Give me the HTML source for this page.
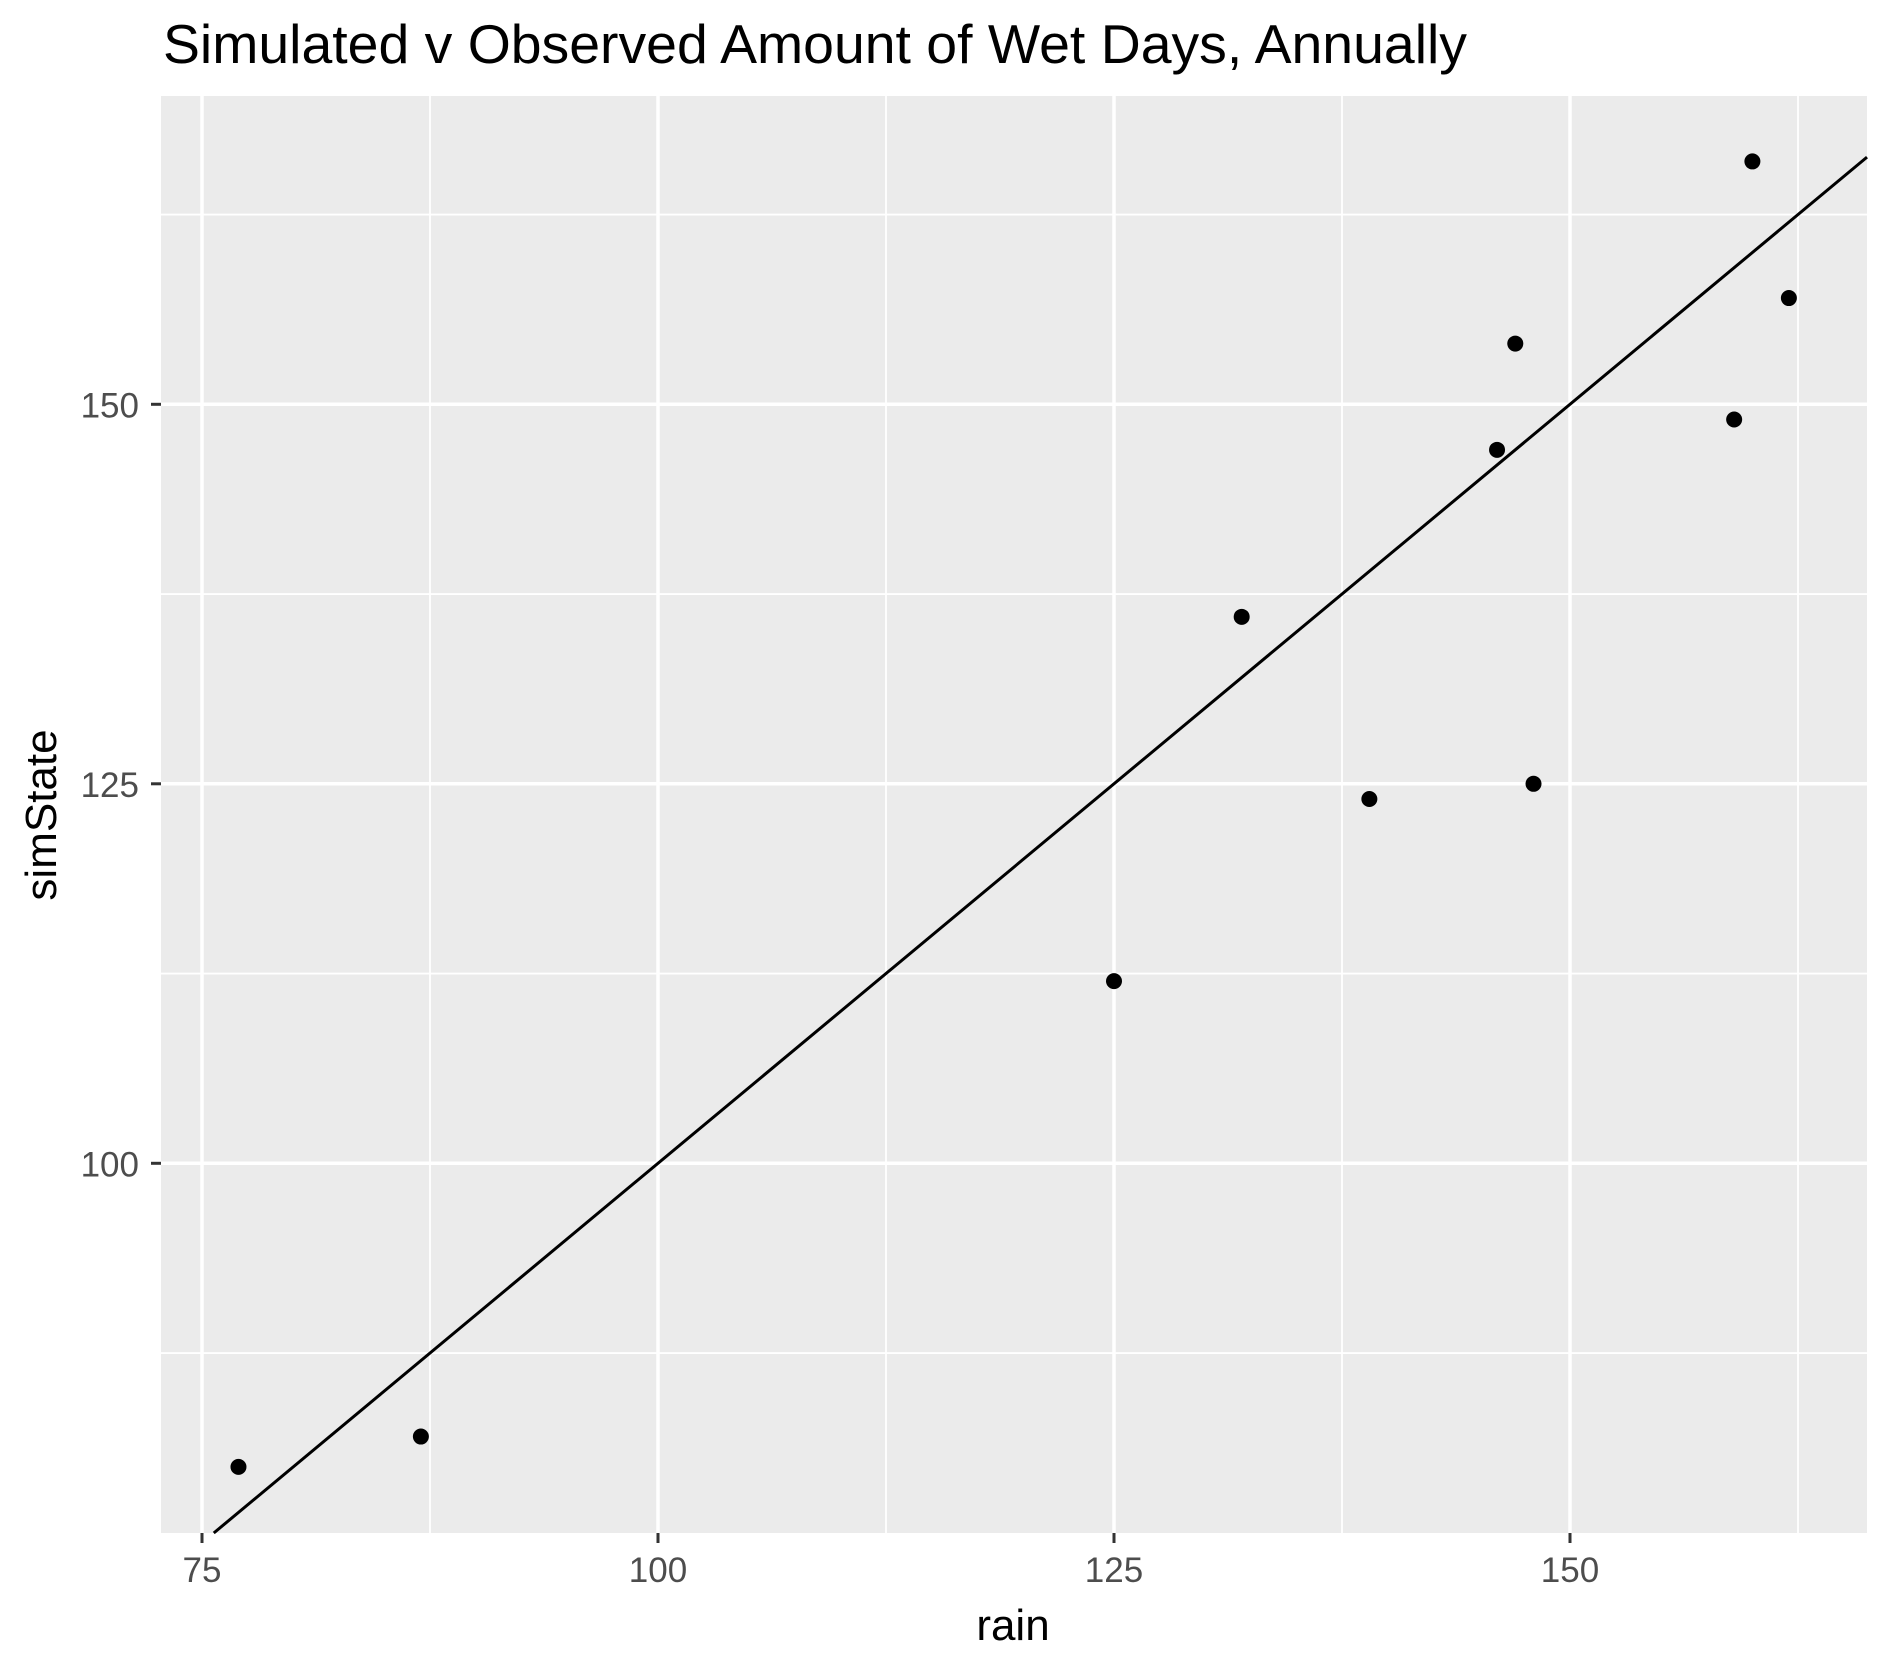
<!DOCTYPE html>
<html><head><meta charset="utf-8"><style>html,body{margin:0;padding:0;background:#fff}svg{display:block}</style></head>
<body>
<svg id="chart" width="1890" height="1671" viewBox="0 0 1890 1671" xmlns="http://www.w3.org/2000/svg" font-family="Liberation Sans, Arial, sans-serif">
<rect x="0" y="0" width="1890" height="1671" fill="#fff"/>
<text x="163" y="63" font-size="54.5" fill="#000" textLength="1304" lengthAdjust="spacingAndGlyphs">Simulated v Observed Amount of Wet Days, Annually</text>
<rect x="161" y="96" width="1706" height="1437" fill="#ebebeb"/>
<g id="grid"></g>
<g id="axes"></g>
<g id="marks"></g>
<text x="1013" y="1640" font-size="44" text-anchor="middle" fill="#000">rain</text>
<text transform="translate(56,815) rotate(-90)" font-size="44" text-anchor="middle" fill="#000">simState</text>
</svg>
<script>
const rainValues = [77, 87, 125, 132, 139, 146, 147, 148, 159, 160, 162];
const simStateValues = [80, 82, 112, 136, 124, 147, 154, 125, 149, 166, 157];
const xTickLabels = [75, 100, 125, 150];
const yTickLabels = [100, 125, 150];
const xMinorTicks = [87.5, 112.5, 137.5, 162.5];
const yMinorTicks = [87.5, 112.5, 137.5, 162.5];

const P = {l:161, r:1867, t:96, b:1533};
function xs(v){ return 202 + (v - 75) * (456/25); }
function ys(v){ return 404.3 - (v - 150) * (379.5/25); }
const NS = 'http://www.w3.org/2000/svg';
function mk(tag, attrs, parent){ const e = document.createElementNS(NS, tag); for (const k in attrs) e.setAttribute(k, attrs[k]); parent.appendChild(e); return e; }
const grid = document.getElementById('grid'), axes = document.getElementById('axes'), marks = document.getElementById('marks');

xMinorTicks.forEach(v => { const e = mk('line', {x1:xs(v), x2:xs(v), y1:P.t, y2:P.b, stroke:'#fff', 'stroke-width':1.8}, grid);
  
   });
yMinorTicks.forEach(v => { const e = mk('line', {x1:P.l, x2:P.r, y1:ys(v), y2:ys(v), stroke:'#fff', 'stroke-width':1.8}, grid);
  
   });
xTickLabels.forEach(v => {
  const g = mk('line', {x1:xs(v), x2:xs(v), y1:P.t, y2:P.b, stroke:'#fff', 'stroke-width':3.5}, grid);
  
  
  const t = mk('line', {x1:xs(v), x2:xs(v), y1:P.b, y2:P.b+10, stroke:'#333', 'stroke-width':3}, axes);
  
  
  const l = mk('text', {x:xs(v), y:1582, 'font-size':35, 'text-anchor':'middle', fill:'#4d4d4d'}, axes);
  l.textContent = v;
  
  
});
yTickLabels.forEach(v => {
  const g = mk('line', {x1:P.l, x2:P.r, y1:ys(v), y2:ys(v), stroke:'#fff', 'stroke-width':3.5}, grid);
  
  
  const t = mk('line', {x1:P.l-10, x2:P.l, y1:ys(v), y2:ys(v), stroke:'#333', 'stroke-width':3}, axes);
  
  
  const l = mk('text', {x:139, y:ys(v)+13, 'font-size':35, 'text-anchor':'end', fill:'#4d4d4d'}, axes);
  l.textContent = v;
  
  
});
const xMin = 75 + (P.l - 202)/(456/25), xMax = 75 + (P.r - 202)/(456/25);
const yMin = 150 - (P.b - 404.3)/(379.5/25), yMax = 150 - (P.t - 404.3)/(379.5/25);
const a = Math.max(xMin, yMin), b = Math.min(xMax, yMax);
const ln = mk('line', {x1:xs(a), y1:ys(a), x2:xs(b), y2:ys(b), stroke:'#000', 'stroke-width':3}, marks);


rainValues.forEach((r, i) => {
  const c = mk('circle', {cx:xs(r), cy:ys(simStateValues[i]), r:8, fill:'#000'}, marks);
  
  
});
</script>
</body></html>
